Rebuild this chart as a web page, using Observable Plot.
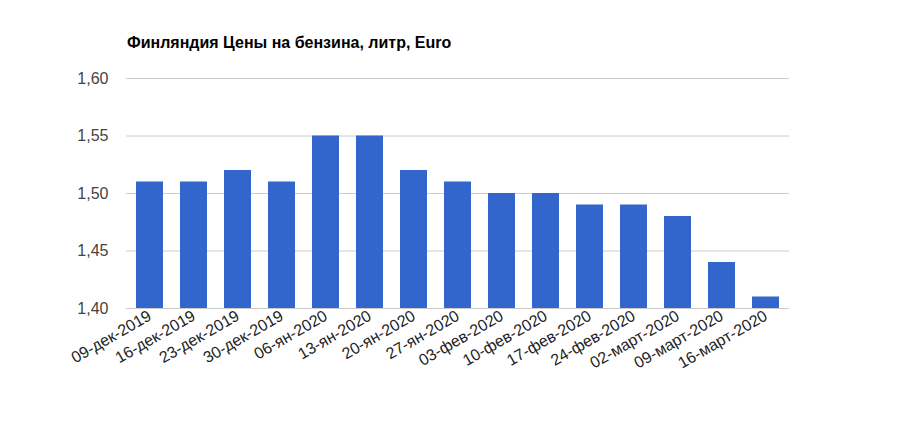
<!DOCTYPE html>
<html><head><meta charset="utf-8">
<script src="https://cdn.jsdelivr.net/npm/d3@7"></script>
<script src="https://cdn.jsdelivr.net/npm/@observablehq/plot@0.6"></script>
<style>
body{margin:0;background:#fff;}
#wrap{position:relative;width:900px;height:432px;}
#title{position:absolute;left:127px;top:34px;font:bold 16px "Liberation Sans",Arial,sans-serif;color:#000;}
</style></head>
<body><div id="wrap"><div id="title">Финляндия Цены на бензина, литр, Euro</div></div>
<script>
const dates = ["09-дек-2019","16-дек-2019","23-дек-2019","30-дек-2019","06-ян-2020","13-ян-2020","20-ян-2020","27-ян-2020","03-фев-2020","10-фев-2020","17-фев-2020","24-фев-2020","02-март-2020","09-март-2020","16-март-2020"];
const prices = [1.51,1.51,1.52,1.51,1.55,1.55,1.52,1.51,1.50,1.50,1.49,1.49,1.48,1.44,1.41];
const yTicks = [1.40,1.45,1.50,1.55,1.60];
const data = dates.map((d,i)=>({date:d, price:prices[i]}));
const fmt = v => v.toFixed(2).replace(".", ",");
const chart = Plot.plot({
  width: 900, height: 432,
  marginTop: 78, marginBottom: 124, marginLeft: 126, marginRight: 111,
  style: {background:"#fff", fontFamily:"'Liberation Sans',Arial,sans-serif"},
  x: {domain: dates, paddingInner: 0.38, paddingOuter: 0.19, label: null},
  y: {domain: [1.40, 1.60], label: null},
  marks: [
    Plot.gridY(yTicks, {stroke:"#cccccc", strokeOpacity:1, strokeWidth:1}),
    Plot.barY(data, {x:"date", y1:1.40, y2:"price", fill:"#3366cc"}),
    Plot.ruleY([1.40], {stroke:"#cccccc"}),
    Plot.axisY(yTicks, {tickFormat: fmt, tickSize:0, tickPadding:18, fontSize:16, fill:"#444", textStroke:"none"}),
    Plot.axisX({tickSize:0, tickRotate:-30, tickPadding:6, fontSize:16, fill:"#222"})
  ]
});
document.getElementById("wrap").appendChild(chart);
</script></body></html>
